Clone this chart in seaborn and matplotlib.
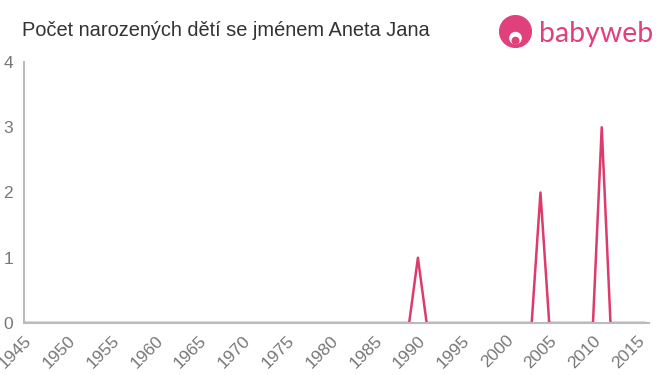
import matplotlib
matplotlib.use("Agg")
import matplotlib.pyplot as plt
import seaborn as sns
import pandas as pd
import numpy as np
from matplotlib.patches import Circle

years = list(range(1945, 2017))
nonzero = {1990: 1, 2004: 2, 2011: 3}
counts = [nonzero.get(y, 0) for y in years]
xticks = list(range(1945, 2016, 5))
yticks = [0, 1, 2, 3, 4]
title = "Počet narozených dětí se jménem Aneta Jana"

sns.set_style("white")
plt.rcParams['font.family'] = ['Liberation Sans', 'DejaVu Sans']

df = pd.DataFrame({"rok": years, "pocet": counts})

fig = plt.figure(figsize=(6.6, 3.75), dpi=100)
ax = fig.add_axes([24/660, 1-323/375, (649-24)/660, (323-62)/375])
sns.lineplot(data=df, x="rok", y="pocet", ax=ax, color="#dc3b6c", linewidth=1.8)

ax.set_xlim(1945, 2016.4)
ax.set_ylim(0, 4)
ax.set_xticks(xticks)
ax.set_xticklabels([str(x) for x in xticks], rotation=45, ha="right", va="top",
                   rotation_mode="anchor")
ax.set_yticks(yticks)
ax.set_xlabel("")
ax.set_ylabel("")
for s in ["top", "right"]:
    ax.spines[s].set_visible(False)
for s in ["left", "bottom"]:
    ax.spines[s].set_color("#bbbbbb")
    ax.spines[s].set_linewidth(1.5)
ax.tick_params(axis="both", colors="#bbbbbb", length=5, width=1.5, labelsize=12.5,
               labelcolor="#777777", pad=3)
ax.tick_params(axis="x", pad=2)
ax.grid(False)

fig.text(22/660, 1-30/375, title, fontsize=14.4, color="#333333", va="center", ha="left")

# logo
logo_ax = fig.add_axes([499/660, 1-48/375, 33/660, 33/375])
logo_ax.set_xlim(0, 1); logo_ax.set_ylim(0, 1); logo_ax.axis("off")
logo_ax.add_patch(Circle((0.5, 0.5), 0.48, color="#e0407c"))
logo_ax.add_patch(Circle((0.5, 0.3), 0.17, color="white"))
logo_ax.add_patch(Circle((0.5, 0.22), 0.1, color="#e0407c"))
fig.text(539/660, 1-34/375, "babyweb", fontsize=20.5, color="#e0407c", va="center",
         ha="left", family=['Lato', 'DejaVu Sans'])

fig.savefig("out.png", dpi=100)
